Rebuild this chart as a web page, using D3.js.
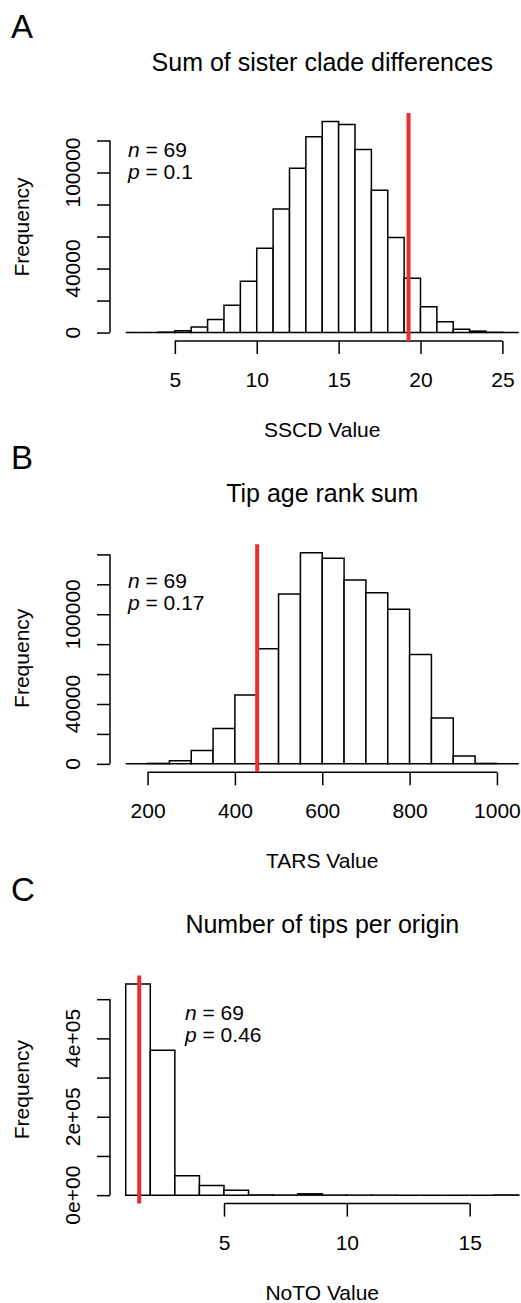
<!DOCTYPE html>
<html>
<head>
<meta charset="utf-8">
<script src="https://cdn.jsdelivr.net/npm/d3@7"></script>
<style>
body { margin: 0; background: #fff; }
svg text { font-family: "Liberation Sans", Arial, Helvetica, sans-serif; fill: #000; }
</style>
</head>
<body>
<svg id="chart" width="521" height="1303"></svg>
<script>
// histogram counts, one value per bin (bins start at *Start, width *Width)
var sscdStart = 2, sscdWidth = 1;
var sscdCounts = [0, 0, 300, 1200, 3500, 8100, 17000, 32000, 52600, 77200, 102600, 122300,
    131900, 130000, 114300, 88900, 59400, 33900, 16200, 6700, 2100, 900, 200, 0];
var sscdObserved = 19.27;
var sscdXTicks = [5, 10, 15, 20, 25];
var sscdYTicks = [0, 20000, 40000, 60000, 80000, 100000, 120000];
var sscdYLabels = ["0", "", "40000", "", "", "100000", ""];

var tarsStart = 150, tarsWidth = 50;
var tarsCounts = [0, 300, 2000, 8900, 23700, 46000, 76900, 113500, 141100, 137500, 122900,
    114400, 103300, 73100, 30700, 5300, 300, 0];
var tarsObserved = 451;
var tarsXTicks = [200, 400, 600, 800, 1000];
var tarsYTicks = [0, 20000, 40000, 60000, 80000, 100000, 120000, 140000];
var tarsYLabels = ["0", "", "40000", "", "", "100000", "", ""];

var notoStart = 1, notoWidth = 1;
var notoCounts = [538600, 370000, 49400, 24700, 12700, 600, 300, 3500, 200, 100, 100, 0, 0, 0, 0, 600];
var notoObserved = 1.55;
var notoXTicks = [5, 10, 15];
var notoYTicks = [0, 100000, 200000, 300000, 400000, 500000];
var notoYLabels = ["0e+00", "", "2e+05", "", "4e+05", ""];

var panelLetters = ["A", "B", "C"];
var panelTitles = ["Sum of sister clade differences", "Tip age rank sum", "Number of tips per origin"];
var xLabels = ["SSCD Value", "TARS Value", "NoTO Value"];
var nValues = ["69", "69", "69"];
var pValues = ["0.1", "0.17", "0.46"];

var svg = d3.select("#chart");
var plotLeft = 110, plotRight = 534.5, plotH = 228;
var baseFont = 21, titleFont = 25, letterFont = 33;

function drawPanel(i, top, start, width, counts, observed, xTicks, yTicks, yLabels, noteX) {
    var bottom = top + plotH;
    var lo = start, hi = start + width * counts.length;
    var maxC = d3.max(counts);
    var x = d3.scaleLinear()
        .domain([lo - 0.04 * (hi - lo), hi + 0.04 * (hi - lo)])
        .range([plotLeft, plotRight]);
    var y = d3.scaleLinear()
        .domain([-0.04 * maxC, 1.04 * maxC])
        .range([bottom, top]);
    var g = svg.append("g");

    // bars (paths so that empty bins still show as a line)
    g.selectAll("path.bar")
        .data(counts)
        .enter().append("path")
        .attr("class", "bar")
        .attr("d", function (c, k) {
            var x0 = x(start + k * width), x1 = x(start + (k + 1) * width);
            return "M" + x0 + "," + y(0) + "V" + y(c) + "H" + x1 + "V" + y(0) + "Z";
        })
        .style("fill", "#fff")
        .style("stroke", "#000")
        .style("stroke-width", 1.5);

    // x axis
    var xAxis = d3.axisBottom(x).tickValues(xTicks).tickSize(13).tickSizeOuter(0)
        .tickFormat(d3.format("d"));
    var xg = g.append("g")
        .attr("transform", "translate(0," + bottom + ")")
        .call(xAxis);
    xg.select(".domain").remove();
    xg.attr("font-size", baseFont).attr("font-family", null);
    xg.selectAll(".tick line").style("stroke-width", 1.5);
    xg.selectAll(".tick text").attr("y", 46).attr("dy", null);
    xg.append("line")
        .attr("x1", x(xTicks[0])).attr("x2", x(xTicks[xTicks.length - 1]))
        .attr("y1", 0).attr("y2", 0)
        .style("stroke", "#000").style("stroke-width", 1.5);

    // y axis
    var yAxis = d3.axisLeft(y).tickValues(yTicks).tickSize(13).tickSizeOuter(0).tickFormat("");
    var yg = g.append("g")
        .attr("transform", "translate(" + plotLeft + ",0)")
        .call(yAxis);
    yg.select(".domain").remove();
    yg.selectAll(".tick line").style("stroke-width", 1.5);
    yg.append("line")
        .attr("x1", 0).attr("x2", 0)
        .attr("y1", y(yTicks[0])).attr("y2", y(yTicks[yTicks.length - 1]))
        .style("stroke", "#000").style("stroke-width", 1.5);
    g.selectAll("text.ylab")
        .data(yTicks)
        .enter().append("text")
        .attr("class", "ylab")
        .attr("x", 80)
        .attr("y", function (v) { return y(v); })
        .attr("transform", function (v) { return "rotate(-90,80," + y(v) + ")"; })
        .attr("text-anchor", "middle")
        .attr("font-size", baseFont)
        .text(function (v, k) { return yLabels[k]; });

    // observed value
    g.append("line")
        .attr("x1", x(observed)).attr("x2", x(observed))
        .attr("y1", top).attr("y2", bottom)
        .style("stroke", "#ee2c2c")
        .style("stroke-width", 4);

    // labels
    g.append("text")
        .attr("x", 11).attr("y", top - 75)
        .attr("font-size", letterFont)
        .text(panelLetters[i]);
    g.append("text")
        .attr("x", (plotLeft + plotRight) / 2).attr("y", top - 42.3)
        .attr("text-anchor", "middle")
        .attr("font-size", titleFont)
        .text(panelTitles[i]);
    g.append("text")
        .attr("x", (plotLeft + plotRight) / 2).attr("y", bottom + 96)
        .attr("text-anchor", "middle")
        .attr("font-size", baseFont)
        .text(xLabels[i]);
    var fy = (top + bottom) / 2;
    g.append("text")
        .attr("x", 29).attr("y", fy)
        .attr("transform", "rotate(-90,29," + fy + ")")
        .attr("text-anchor", "middle")
        .attr("font-size", baseFont)
        .text("Frequency");

    var n = g.append("text")
        .attr("x", noteX).attr("y", top + 44)
        .attr("font-size", baseFont);
    n.append("tspan").style("font-style", "italic").text("n");
    n.append("tspan").text(" = " + nValues[i]);
    var p = g.append("text")
        .attr("x", noteX).attr("y", top + 66)
        .attr("font-size", baseFont);
    p.append("tspan").style("font-style", "italic").text("p");
    p.append("tspan").text(" = " + pValues[i]);
}

drawPanel(0, 113, sscdStart, sscdWidth, sscdCounts, sscdObserved, sscdXTicks, sscdYTicks, sscdYLabels, 128);
drawPanel(1, 544.3, tarsStart, tarsWidth, tarsCounts, tarsObserved, tarsXTicks, tarsYTicks, tarsYLabels, 128);
drawPanel(2, 975.6, notoStart, notoWidth, notoCounts, notoObserved, notoXTicks, notoYTicks, notoYLabels, 185);
</script>
</body>
</html>
